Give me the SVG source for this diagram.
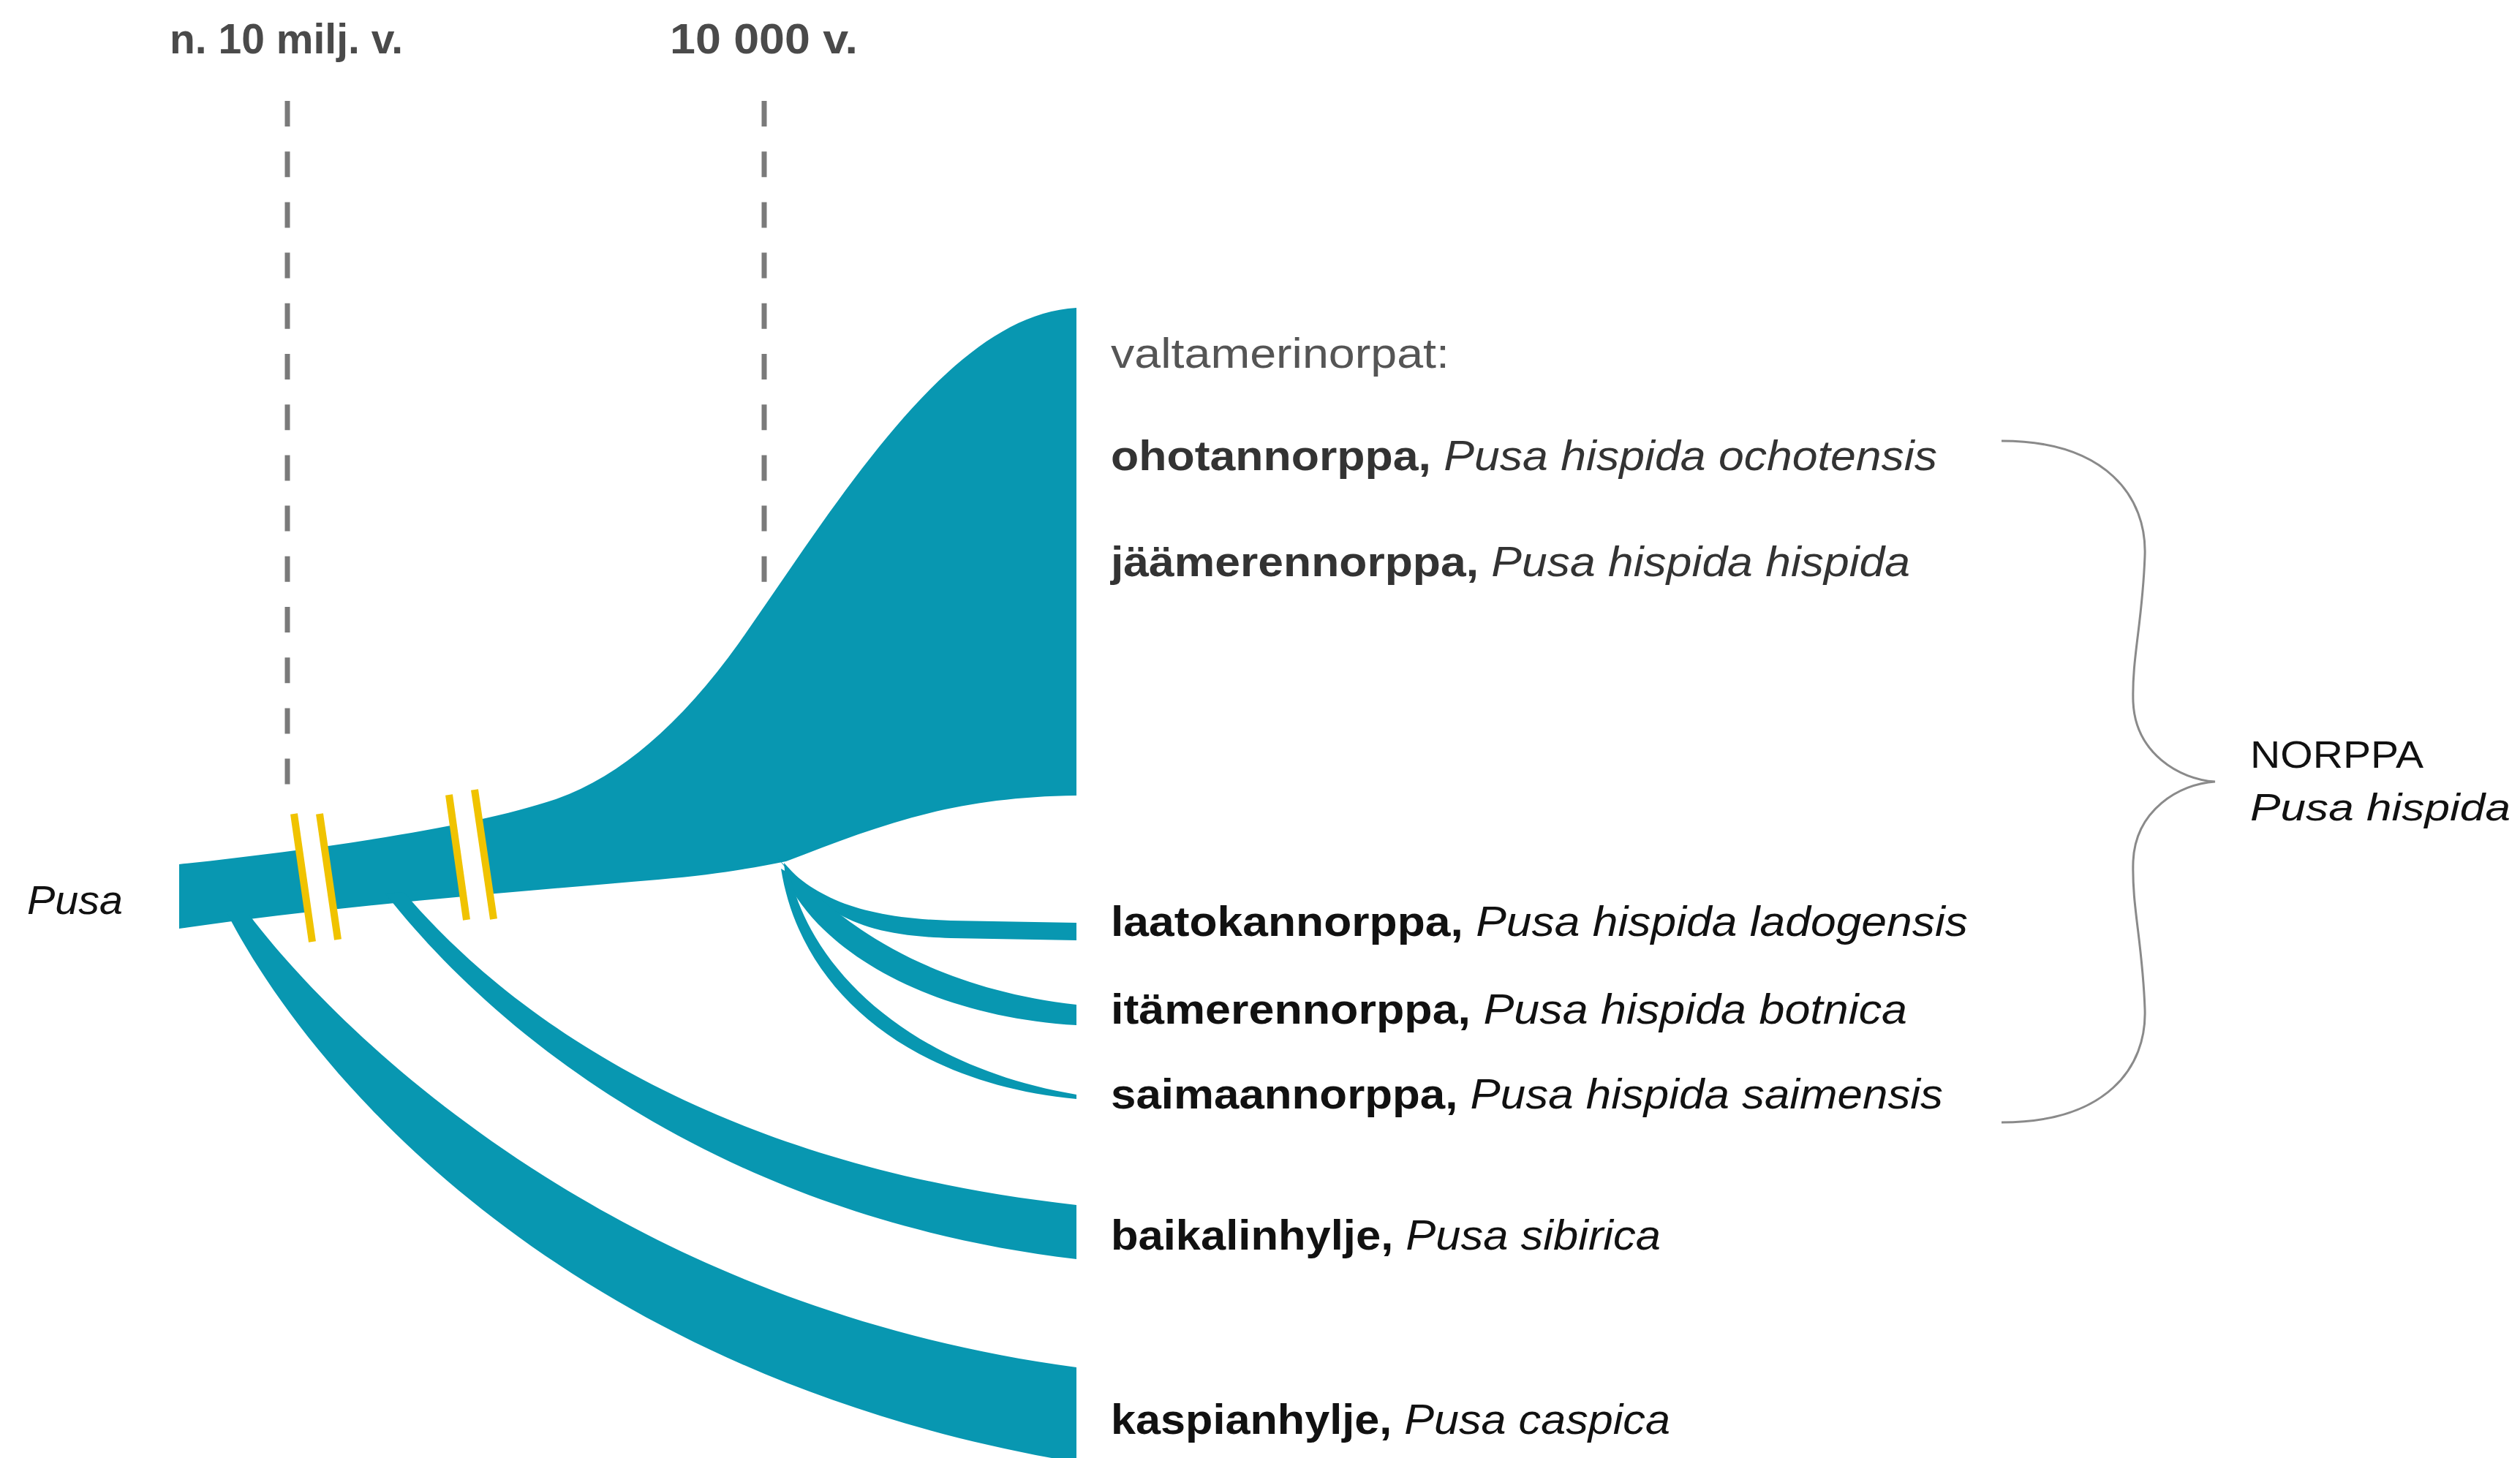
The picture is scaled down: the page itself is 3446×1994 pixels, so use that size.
<svg xmlns="http://www.w3.org/2000/svg" width="3446" height="1994" viewBox="0 0 3446 1994">
<style>
.teal{fill:#0897b1}
.gap{fill:#ffffff}
.brk{stroke:#f0c300;stroke-width:10;fill:none}
.dash{stroke:#7a7a7a;stroke-width:7;stroke-dasharray:35 34.2;fill:none}
.brace{fill:none;stroke:#8a8a8a;stroke-width:3}
text{font-family:"Liberation Sans",Arial,sans-serif}
.hdr{font-size:58px;font-weight:700;fill:#4a4a4a}
.sp{font-size:58px;fill:#111}
.sp2{font-size:58px;fill:#333}
.b{font-weight:700}
.i{font-style:italic}
.grey{font-size:58px;fill:#555}
.nor{font-size:52px;fill:#111}
</style>
<rect width="3446" height="1994" fill="#ffffff"/>

<g id="timeline">
  <text class="hdr" x="232" y="73" textLength="319" lengthAdjust="spacingAndGlyphs">n. 10 milj. v.</text>
  <text class="hdr" x="916" y="73" textLength="257" lengthAdjust="spacingAndGlyphs">10 000 v.</text>
  <line class="dash" x1="393" y1="138" x2="393" y2="1073"/>
  <line class="dash" x1="1045" y1="138" x2="1045" y2="796"/>
</g>

<g id="connectors">
  <path id="trunk" class="teal" d="M245,1182 C450,1160 650,1130 760,1093 C850,1062 935,985 1010,880 C1150,680 1300,430 1472,421 L1472,1088 C1300,1090 1200,1130 1075,1178 C1030,1187 980,1196 900,1203 C700,1220 450,1240 245,1270 Z"/>
  <path id="br-kaspian" class="teal" d="M311,1250 C420,1460 760,1880 1472,2000 L1472,1870 C800,1780 430,1370 340,1250 Z"/>
  <path id="br-baikal" class="teal" d="M527,1222 C650,1380 950,1660 1472,1722 L1472,1648 C950,1590 680,1370 552,1220 Z"/>
  <path id="br-laatokan" class="teal" d="M1062,1172 C1110,1225 1170,1255 1300,1259 L1472,1262 L1472,1286 L1300,1283 C1200,1280 1150,1262 1095,1212 Z"/>
  <path id="br-itameren" class="teal" d="M1072,1180 C1140,1255 1260,1350 1472,1374 L1472,1402 C1270,1390 1120,1300 1074,1200 Z"/>
  <path id="br-saimaan" class="teal" d="M1080,1195 C1110,1330 1250,1460 1472,1497 L1472,1503 C1250,1482 1095,1360 1068,1188 Z"/>
</g>

<g id="breaks">
  <polygon class="gap" points="402,1113 437,1113 462,1285 427,1288"/>
  <line class="brk" x1="402" y1="1113" x2="427" y2="1288"/>
  <line class="brk" x1="437" y1="1113" x2="462" y2="1285"/>
  <polygon class="gap" points="614,1087 649,1080 675,1257 638,1258"/>
  <line class="brk" x1="614" y1="1087" x2="638" y2="1258"/>
  <line class="brk" x1="649" y1="1080" x2="675" y2="1257"/>
</g>

<g id="node-pusa">
  <text class="i" x="37" y="1250" textLength="131" lengthAdjust="spacingAndGlyphs" style="font-size:55px;fill:#111">Pusa</text>
</g>

<g id="node-valtameri">
  <text class="grey" x="1519" y="503" textLength="463" lengthAdjust="spacingAndGlyphs">valtamerinorpat:</text>
</g>
<g id="node-ohotan">
  <text class="sp2" x="1519" y="643" textLength="1130" lengthAdjust="spacingAndGlyphs"><tspan class="b">ohotannorppa,</tspan> <tspan class="i">Pusa hispida ochotensis</tspan></text>
</g>
<g id="node-jaameren">
  <text class="sp2" x="1519" y="788" textLength="1093" lengthAdjust="spacingAndGlyphs"><tspan class="b">jäämerennorppa,</tspan> <tspan class="i">Pusa hispida hispida</tspan></text>
</g>
<g id="node-laatokan">
  <text class="sp" x="1519" y="1280" textLength="1172" lengthAdjust="spacingAndGlyphs"><tspan class="b">laatokannorppa,</tspan> <tspan class="i">Pusa hispida ladogensis</tspan></text>
</g>
<g id="node-itameren">
  <text class="sp" x="1519" y="1400" textLength="1089" lengthAdjust="spacingAndGlyphs"><tspan class="b">itämerennorppa,</tspan> <tspan class="i">Pusa hispida botnica</tspan></text>
</g>
<g id="node-saimaan">
  <text class="sp" x="1519" y="1516" textLength="1138" lengthAdjust="spacingAndGlyphs"><tspan class="b">saimaannorppa,</tspan> <tspan class="i">Pusa hispida saimensis</tspan></text>
</g>
<g id="node-baikal">
  <text class="sp" x="1519" y="1709" textLength="752" lengthAdjust="spacingAndGlyphs"><tspan class="b">baikalinhylje,</tspan> <tspan class="i">Pusa sibirica</tspan></text>
</g>
<g id="node-kaspian">
  <text class="sp" x="1519" y="1961" textLength="765" lengthAdjust="spacingAndGlyphs"><tspan class="b">kaspianhylje,</tspan> <tspan class="i">Pusa caspica</tspan></text>
</g>

<g id="node-norppa">
  <path class="brace" d="M2737,603 C2880,603 2936,680 2933,760 C2930,850 2915,900 2917,960 C2920,1030 2980,1066 3029,1069 C2980,1072 2920,1108 2917,1178 C2915,1240 2930,1290 2933,1380 C2936,1460 2880,1535 2737,1535"/>
  <text class="nor" x="3077" y="1050" textLength="237" lengthAdjust="spacingAndGlyphs">NORPPA</text>
  <text class="nor i" x="3077" y="1122" textLength="356" lengthAdjust="spacingAndGlyphs">Pusa hispida</text>
</g>
</svg>
